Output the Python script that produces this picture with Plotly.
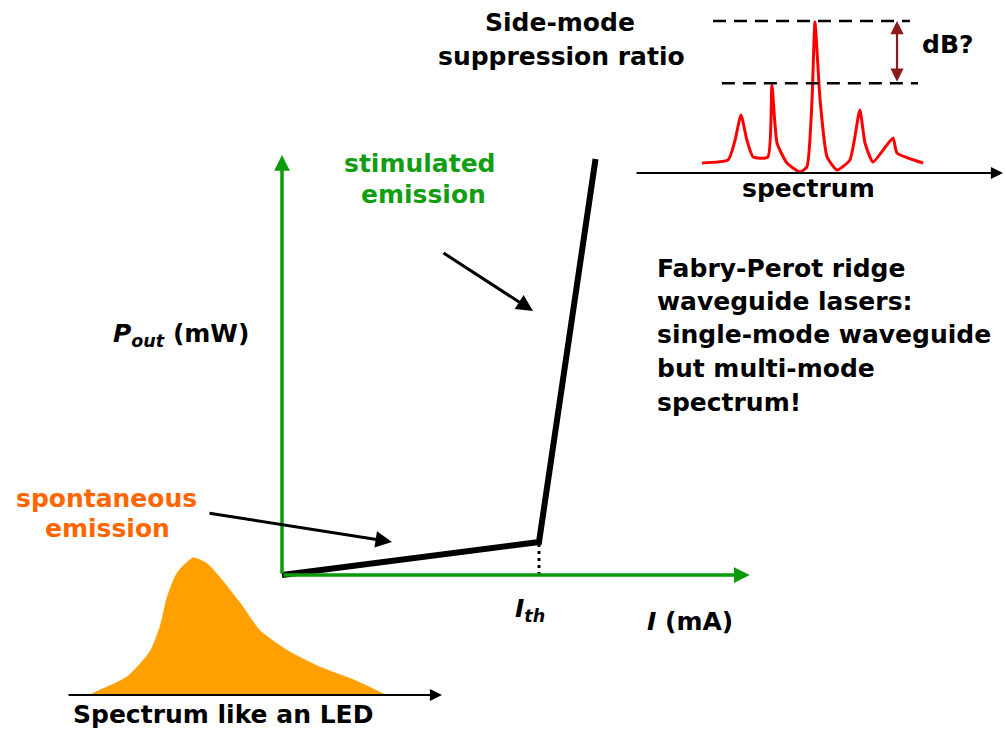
import plotly.graph_objects as go

W, H = 1006, 731

# ---------------- data ----------------
# L-I characteristic (arbitrary units: mA / mW)
current_mA = [0, 10, 12.2]
power_mW = [0, 3.3, 41.6]
I_th = 10
P_th = 3.3

# LED-like spontaneous emission spectrum
led_wl = [0.6, 0.75, 1.6, 2.21, 2.48, 2.67, 2.93, 3.36, 3.73, 4.08, 4.61, 5.15, 5.87, 6.75, 7.63, 8.35, 8.5]
led_int = [0, 0.02, 0.13, 0.31, 0.49, 0.70, 0.87, 0.98, 0.94, 0.84, 0.66, 0.46, 0.32, 0.20, 0.11, 0.02, 0]

# Fabry-Perot multi-mode laser spectrum
laser_wl = [1.82, 2.53, 2.72, 2.88, 3.04, 3.21, 3.61, 3.72, 3.86, 4.13, 4.48, 4.67, 4.81, 4.89,
            5.03, 5.22, 5.49, 5.84, 6.11, 6.25, 6.47, 7.01, 7.12, 7.83]
laser_int = [0.066, 0.086, 0.217, 0.382, 0.217, 0.105, 0.105, 0.579, 0.197, 0.066, 0.007, 0.039, 0.480, 0.993,
             0.480, 0.105, 0.020, 0.086, 0.414, 0.197, 0.072, 0.230, 0.132, 0.066]
smsr_levels = [1.0, 0.59]

# ---------------- helpers ----------------
def px(x):
    return x / W

def py(y):
    return 1 - y / H

def xdom(origin, scale, rng):
    return [max(0, px(origin + rng[0] * scale)), min(1, px(origin + rng[1] * scale))]

def ydom(origin, scale, rng):
    return [max(0, py(origin - rng[0] * scale)), min(1, py(origin - rng[1] * scale))]

GREEN_TXT = "#129e12"
GREEN_AX = "#0a9a0a"
ORANGE_TXT = "#ff6600"
LED_FILL = "#ffa000"
FONT = "DejaVu Sans"

fig = go.Figure()

# L-I curve
fig.add_trace(go.Scatter(x=current_mA, y=power_mW, mode="lines",
                         line=dict(color="black", width=6), xaxis="x", yaxis="y",
                         hoverinfo="skip", showlegend=False))
fig.add_trace(go.Scatter(x=[I_th, I_th], y=[0, P_th], mode="lines",
                         line=dict(color="black", width=3, dash="3px,4px"), xaxis="x", yaxis="y",
                         hoverinfo="skip", showlegend=False))

# LED spectrum
fig.add_trace(go.Scatter(x=led_wl, y=led_int, mode="lines", fill="tozeroy",
                         fillcolor=LED_FILL, line=dict(color=LED_FILL, width=0.5, shape="spline", smoothing=0.6),
                         xaxis="x2", yaxis="y2", hoverinfo="skip", showlegend=False))

# laser spectrum
fig.add_trace(go.Scatter(x=laser_wl, y=laser_int, mode="lines",
                         line=dict(color="#ff0000", width=3, shape="spline", smoothing=0.5),
                         xaxis="x3", yaxis="y3", hoverinfo="skip", showlegend=False))

main_x = [-1, 19]
main_y = [-2, 44]
led_x = [-0.5, 10.5]
led_y = [-0.1, 1.1]
las_x = [-0.5, 10.0]
las_y = [-0.1, 1.1]

hidden = dict(visible=False, fixedrange=True)
fig.update_layout(
    width=W, height=H, margin=dict(l=0, r=0, t=0, b=0),
    paper_bgcolor="white", plot_bgcolor="rgba(0,0,0,0)",
    showlegend=False,
    xaxis=dict(domain=xdom(282, 25.7, main_x), range=main_x, anchor="y", **hidden),
    yaxis=dict(domain=ydom(575, 10, main_y), range=main_y, anchor="x", **hidden),
    xaxis2=dict(domain=xdom(67, 37.5, led_x), range=led_x, anchor="y2", **hidden),
    yaxis2=dict(domain=ydom(695, 140, led_y), range=led_y, anchor="x2", **hidden),
    xaxis3=dict(domain=xdom(635, 36.8, las_x), range=las_x, anchor="y3", **hidden),
    yaxis3=dict(domain=ydom(173, 152, las_y), range=las_y, anchor="x3", **hidden),
)

# SMSR dashed lines
fig.add_shape(type="line", xref="x3", yref="y3", x0=2.12, x1=7.47, y0=smsr_levels[0], y1=smsr_levels[0],
              line=dict(color="black", width=2.5, dash="13px,8px"))
fig.add_shape(type="line", xref="x3", yref="y3", x0=2.36, x1=7.69, y0=smsr_levels[1], y1=smsr_levels[1],
              line=dict(color="black", width=2.5, dash="13px,8px"))

ann = []
# axes arrows
def arrow(xr, yr, x, y, ax, ay, color, width, size=1.0, head=2, side="end"):
    ann.append(dict(xref=xr, yref=yr, axref=xr, ayref=yr, x=x, y=y, ax=ax, ay=ay, text="",
                    showarrow=True, arrowcolor=color, arrowwidth=width, arrowsize=size,
                    arrowhead=head, startarrowhead=head, startarrowsize=size, arrowside=side, standoff=0))

arrow("x", "y", 0, 42, 0, 0, GREEN_AX, 3.5, 0.9)
arrow("x", "y", 18.2, 0, 0, 0, GREEN_AX, 3.5, 0.9)
arrow("x2", "y2", 10, 0, 0, 0, "black", 2.2, 1.1)
arrow("x3", "y3", 10, 0, 0, 0, "black", 2.2, 1.1)
arrow("x3", "y3", 7.12, smsr_levels[0], 7.12, smsr_levels[1], "#8b1a1a", 2.2, 1.2, side="end+start")

# pointer arrows (paper + pixel offsets)
ann.append(dict(xref="paper", yref="paper", x=px(533), y=py(311), ax=442 - 533, ay=252 - 311,
                text="", showarrow=True, arrowcolor="black", arrowwidth=3, arrowhead=2, arrowsize=1.1, standoff=0))
ann.append(dict(xref="paper", yref="paper", x=px(392), y=py(542), ax=208 - 392, ay=513 - 542,
                text="", showarrow=True, arrowcolor="black", arrowwidth=3, arrowhead=2, arrowsize=1.1, standoff=0))

def label(text, x, y, color="black", size=25, anchor="left"):
    ann.append(dict(xref="paper", yref="paper", x=px(x), y=py(y), text=text, showarrow=False,
                    xanchor=anchor, yanchor="middle",
                    font=dict(family=FONT, size=size, color=color, weight="bold")))

label("Side-mode", 560, 23, anchor="center")
label("suppression ratio", 561, 56, anchor="center")
label("dB?", 920, 44)
label("spectrum", 808, 188, anchor="center")
label("stimulated", 420, 164, color=GREEN_TXT, anchor="center")
label("emission", 423, 194, color=GREEN_TXT, anchor="center")
for i, t in enumerate(["Fabry-Perot ridge", "waveguide lasers:", "single-mode waveguide",
                       "but multi-mode", "spectrum!"]):
    label(t, 655, 268 + 33.5 * i)
label("<i>P<sub>out</sub></i> (mW)", 111, 335)
label("<i>I<sub>th</sub></i>", 513, 610)
label("<i>I</i> (mA)", 645, 621)
label("spontaneous", 106, 498, color=ORANGE_TXT, anchor="center")
label("emission", 107, 528, color=ORANGE_TXT, anchor="center")
label("Spectrum like an LED", 71, 714)

fig.update_layout(annotations=ann)

fig.write_html("out.html", config={"displayModeBar": False},
               post_script="document.body.style.margin='0';document.body.style.overflow='hidden';")
